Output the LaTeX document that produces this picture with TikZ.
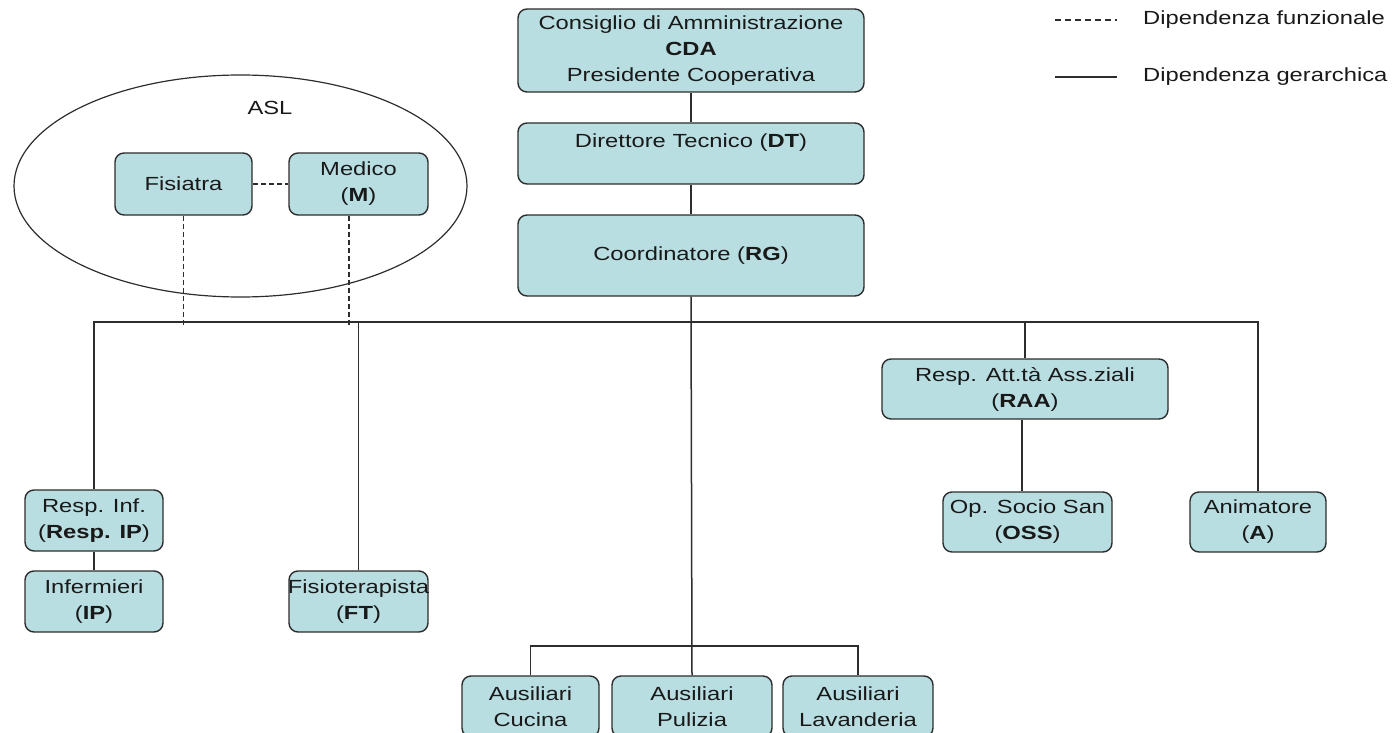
\documentclass[tikz,border=0pt]{standalone}
\usepackage{fontspec}
\setmainfont{Liberation Sans}[FakeStretch=1.25]
\usetikzlibrary{shapes.geometric}
\definecolor{boxfill}{RGB}{185,222,226}
\definecolor{edge}{RGB}{45,45,45}
\definecolor{ink}{RGB}{25,25,25}
\tikzset{
  box/.style={draw=edge, line width=1.4pt, fill=boxfill, rounded corners=9pt, inner sep=0pt},
  txt/.style={text=ink, align=center, inner sep=0pt, font=\fontsize{19}{26}\selectfont},
  conn/.style={draw=edge, line width=1.5pt},
  fdash/.style={draw=edge, line width=1.5pt, dash pattern=on 5pt off 3pt},
}
\begin{document}
\begin{tikzpicture}[x=1pt,y=-1pt]
\useasboundingbox (0,0) rectangle (1393,733);
\clip (0,0) rectangle (1393,733);
% ASL ellipse
\node[draw=edge, line width=1.2pt, ellipse, minimum width=453pt, minimum height=222pt, inner sep=0pt] (asl) at (240.5,186) {};
\node[txt] (asllab) at (270,108) {ASL};
% boxes
\node[box, minimum width=346pt, minimum height=83pt] (cda) at (691,50.5) {};
\node[box, minimum width=346pt, minimum height=61pt] (dt) at (691,153.5) {};
\node[box, minimum width=346pt, minimum height=81pt] (rg) at (691,255.5) {};
\node[box, minimum width=137pt, minimum height=62pt] (fis) at (183.5,184) {};
\node[box, minimum width=139pt, minimum height=62pt] (med) at (358.5,184) {};
\node[box, minimum width=138pt, minimum height=61pt] (rip) at (94,520.5) {};
\node[box, minimum width=138pt, minimum height=61pt] (inf) at (94,601.5) {};
\node[box, minimum width=139pt, minimum height=61pt] (ft) at (358.5,601.5) {};
\node[box, minimum width=286pt, minimum height=60pt] (raa) at (1025,389) {};
\node[box, minimum width=169pt, minimum height=60pt] (oss) at (1027.5,522) {};
\node[box, minimum width=136pt, minimum height=60pt] (ani) at (1258,522) {};
\node[box, minimum width=137pt, minimum height=61pt] (cuc) at (530.5,706.5) {};
\node[box, minimum width=160pt, minimum height=61pt] (pul) at (692,706.5) {};
\node[box, minimum width=150pt, minimum height=61pt] (lav) at (858,706.5) {};
% texts
\node[txt] at (cda) {Consiglio di Amministrazione\\\textbf{CDA}\\Presidente Cooperativa};
\node[txt] at ([yshift=10.5pt]dt.center) {Direttore Tecnico (\textbf{DT})};
\node[txt] at (rg) {Coordinatore (\textbf{RG})};
\node[txt] at (fis) {Fisiatra};
\node[txt] at (med) {Medico\\(\textbf{M})};
\node[txt] at (rip) {Resp. Inf.\\(\textbf{Resp. IP})};
\node[txt] at (inf) {Infermieri\\(\textbf{IP})};
\node[txt] at (ft) {Fisioterapista\\(\textbf{FT})};
\node[txt] at (raa) {Resp. Att.tà Ass.ziali\\(\textbf{RAA})};
\node[txt] at (oss) {Op. Socio San\\(\textbf{OSS})};
\node[txt] at (ani) {Animatore\\(\textbf{A})};
\node[txt] at (cuc) {Ausiliari\\Cucina};
\node[txt] at (pul) {Ausiliari\\Pulizia};
\node[txt] at (lav) {Ausiliari\\Lavanderia};
% connectors
\coordinate (bus) at (692,322);
\coordinate (bus2) at (692,646);
\coordinate (dashend) at (0,327);
\draw[conn] (cda) -- (dt);
\draw[conn] (dt) -- (rg);
\draw[conn] (rg.south) -- (pul.north);
\draw[conn] (rip.north) -- (rip.north |- bus) -- (ani.north |- bus) -- (ani.north);
\draw[conn] (ft.north) -- (ft.north |- bus);
\draw[conn] (raa.north) -- (raa.north |- bus);
\draw[conn] ([xshift=-3pt]raa.south) -- ([xshift=-3pt]raa.south |- oss.north);
\draw[conn] (rip) -- (inf);
\draw[conn] (cuc.north) -- (cuc.north |- bus2) -- (lav.north |- bus2) -- (lav.north);
\draw[fdash] (fis) -- (med);
\draw[fdash] (fis.south) -- (fis.south |- dashend);
\draw[fdash] ([xshift=-9.5pt]med.south) -- ([xshift=-9.5pt]med.south |- dashend);
% legend
\coordinate (l1a) at (1055,20);
\coordinate (l1b) at (1117,20);
\coordinate (l2a) at (1055,77);
\coordinate (l2b) at (1117,77);
\draw[conn, line width=1.2pt, dash pattern=on 6pt off 4pt] (l1a) -- (l1b);
\draw[conn, line width=1.2pt] (l2a) -- (l2b);
\node[txt, anchor=west] (leg1) at (1143,20) {Dipendenza funzionale};
\node[txt, anchor=west] (leg2) at (1143,77) {Dipendenza gerarchica};
\end{tikzpicture}
\end{document}
